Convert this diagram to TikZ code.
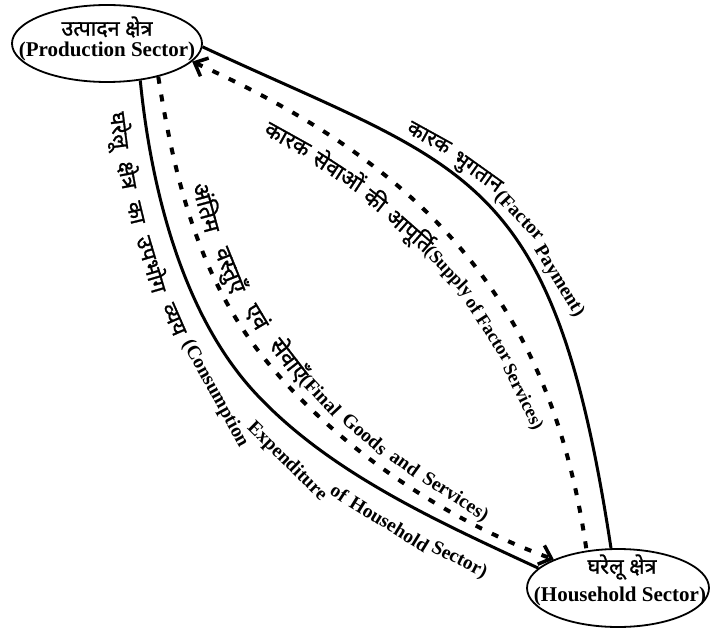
\documentclass[tikz,border=0pt]{standalone}
\usepackage{fontspec}
\setmainfont{Liberation Serif}
\newfontfamily\deva[Script=Devanagari,FakeBold=1.2]{Noto Sans}
\usetikzlibrary{shapes.geometric,arrows.meta,decorations.markings}
\newlength\wordwd
\newlength\arcat
\newlength\totw
\newlength\gapw
\newcount\nwords
\newcommand\dvA{\deva\fontsize{21}{25}\selectfont}
\newcommand\enA{\bfseries\fontsize{19.5}{23}\selectfont}
\newcommand\dvB{\deva\fontsize{22}{26}\selectfont}
\newcommand\enB{\bfseries\fontsize{18.5}{22}\selectfont}
\newcommand\dvC{\deva\fontsize{23}{27}\selectfont}
\newcommand\enC{\bfseries\fontsize{19.5}{23}\selectfont}
\newcommand\dvD{\deva\fontsize{22}{26}\selectfont}
\newcommand\enD{\bfseries\fontsize{19.5}{23}\selectfont}
% spread words between two arc lengths: #1 font, #2 factor, #3 start, #4 end, #5 name/word list
\newcommand\spread[5]{%
  \global\totw=0pt \global\nwords=0
  \foreach \nm/\wrd in {#5}{\setbox0=\hbox{#1\wrd}\global\advance\totw by \wd0 \global\advance\nwords by 1 }%
  \global\totw=#2\totw
  \global\gapw=#4\relax \global\advance\gapw by -#3\relax \global\advance\gapw by -\totw
  \global\advance\nwords by -1
  \ifnum\nwords>0 \global\divide\gapw by \nwords \fi
  \global\arcat=#3\relax
  \foreach \nm/\wrd in {#5}{\expandafter\xdef\csname\nm\endcsname{\the\arcat}%
    \setbox0=\hbox{#1\wrd}\wordwd=#2\wd0 \global\advance\arcat by \wordwd \global\advance\arcat by \gapw}%
}
% run words on from the current arc length: #1 font, #2 factor, #3 gap, #4 name/word list
\newcommand\runwords[4]{%
  \foreach \nm/\wrd in {#4}{\expandafter\xdef\csname\nm\endcsname{\the\arcat}%
    \setbox0=\hbox{#1\wrd}\wordwd=#2\wd0 \global\advance\arcat by \wordwd \global\advance\arcat by #3\relax}%
  \global\advance\arcat by -#3\relax}
\begin{document}
\spread{\dvA}{0.99}{218pt}{326pt}{pAa/कारक,pAb/भुगतान}
\spread{\enA}{0.98}{326pt}{468pt}{pAc/(Factor,pAd/Payment)}
\global\arcat=95pt
\runwords{\dvB}{1.04}{8pt}{pBa/कारक,pBb/सेवाओं,pBc/की,pBd/आपूर्ति}
\runwords{\enB}{1.04}{4.6pt}{pBe/(Supply,pBf/of,pBg/Factor,pBh/Services)}
\spread{\dvC}{1.02}{112pt}{343pt}{pCa/अंतिम,pCb/वस्तुएँ,pCc/एवं,pCd/सेवाएँ}
\spread{\enC}{1.02}{343pt}{580pt}{pCe/(Final,pCf/Goods,pCg/and,pCh/Services)}
\spread{\dvD}{0.95}{27pt}{250pt}{pDa/घरेलू,pDb/क्षेत्र,pDc/का,pDd/उपभोग,pDe/व्यय}
\xdef\pDf{258pt}\xdef\pDg{356pt}\xdef\pDh{455pt}\xdef\pDi{477pt}\xdef\pDj{568pt}
\begin{tikzpicture}[x=1pt,y=-1pt,
  sector/.style={ellipse, draw, line width=1.8pt, inner sep=0pt},
  dv/.style={font=\deva\fontsize{21.5}{25}\selectfont, inner sep=0pt},
  en/.style={font=\bfseries\fontsize{21}{24}\selectfont, inner sep=0pt},
  wordnode/.style={transform shape, anchor=base west, inner sep=0pt, yshift=#1},
  flow/.style={line width=3pt},
  service/.style={line width=4pt, dash pattern=on 7pt off 11pt},
  barbtip/.tip={Straight Barb[line width=3.5pt, length=11pt, width=20pt]}
]
\useasboundingbox (0,0) rectangle (711,628);
\fill[white] (0,0) rectangle (711,628);

% sectors
\node[sector, minimum width=190pt, minimum height=77pt] (prod) at (107,43.5) {};
\node[dv] (prodhi) at (107,27) {उत्पादन क्षेत्र};
\node[en] (proden) at (107,51) {(Production Sector)};
\node[sector, minimum width=182pt, minimum height=78pt] (house) at (618,588) {};
\node[dv] (househi) at (622,567) {घरेलू क्षेत्र};
\node[en] (houseen) at (620,596) {(Household Sector)};
\coordinate (cmid) at (260,353);
\coordinate (dmid) at (260,398);

% factor payment
\draw[flow, postaction={decorate}, decoration={markings,
  mark=at position \pAa with {\node[wordnode=9pt] {\dvA कारक};},
  mark=at position \pAb with {\node[wordnode=9pt] {\dvA भुगतान};},
  mark=at position \pAc with {\node[wordnode=9pt] {\enA (Factor};},
  mark=at position \pAd with {\node[wordnode=9pt] {\enA Payment)};}}]
  (prod.-2) .. controls (469,171) and (553,167) .. (house.100);

% supply of factor services
\draw[service, {barbtip}-, postaction={decorate}, decoration={markings,
  mark=at position \pBa with {\node[wordnode=-33pt] {\dvB कारक};},
  mark=at position \pBb with {\node[wordnode=-33pt] {\dvB सेवाओं};},
  mark=at position \pBc with {\node[wordnode=-33pt] {\dvB की};},
  mark=at position \pBd with {\node[wordnode=-33pt] {\dvB आपूर्ति};},
  mark=at position \pBe with {\node[wordnode=-30pt] {\enB (Supply};},
  mark=at position \pBf with {\node[wordnode=-30pt] {\enB of};},
  mark=at position \pBg with {\node[wordnode=-30pt] {\enB Factor};},
  mark=at position \pBh with {\node[wordnode=-30pt] {\enB Services)};}}]
  (prod.-12) .. controls (433,170) and (552,309) .. (house.130);

% final goods and services
\draw[service, -{barbtip}, postaction={decorate}, decoration={markings,
  mark=at position \pCa with {\node[wordnode=11pt] {\dvC अंतिम};},
  mark=at position \pCb with {\node[wordnode=11pt] {\dvC वस्तुएँ};},
  mark=at position \pCc with {\node[wordnode=11pt] {\dvC एवं};},
  mark=at position \pCd with {\node[wordnode=11pt] {\dvC सेवाएँ};},
  mark=at position \pCe with {\node[wordnode=11pt] {\enC (Final};},
  mark=at position \pCf with {\node[wordnode=11pt] {\enC Goods};},
  mark=at position \pCg with {\node[wordnode=11pt] {\enC and};},
  mark=at position \pCh with {\node[wordnode=11pt] {\enC Services)};}}]
  (prod.-33) .. controls (174,176) and (198,274) .. (cmid)
  .. controls (332,445) and (447,521) .. (house.156);

% consumption expenditure
\draw[flow, postaction={decorate}, decoration={markings,
  mark=at position \pDa with {\node[wordnode=-34pt] {\dvD घरेलू};},
  mark=at position \pDb with {\node[wordnode=-34pt] {\dvD क्षेत्र};},
  mark=at position \pDc with {\node[wordnode=-34pt] {\dvD का};},
  mark=at position \pDd with {\node[wordnode=-34pt] {\dvD उपभोग};},
  mark=at position \pDe with {\node[wordnode=-34pt] {\dvD व्यय};},
  mark=at position \pDf with {\node[wordnode=-31pt] {\enD (Consumption};},
  mark=at position \pDg with {\node[wordnode=-31pt] {\enD Expenditure};},
  mark=at position \pDh with {\node[wordnode=-31pt] {\enD of};},
  mark=at position \pDi with {\node[wordnode=-31pt] {\enD Household};},
  mark=at position \pDj with {\node[wordnode=-31pt] {\enD Sector)};}}]
  (prod.-48) .. controls (151,189) and (183,319) .. (dmid)
  .. controls (334,475) and (441,523) .. (house.166);
\end{tikzpicture}
\end{document}
